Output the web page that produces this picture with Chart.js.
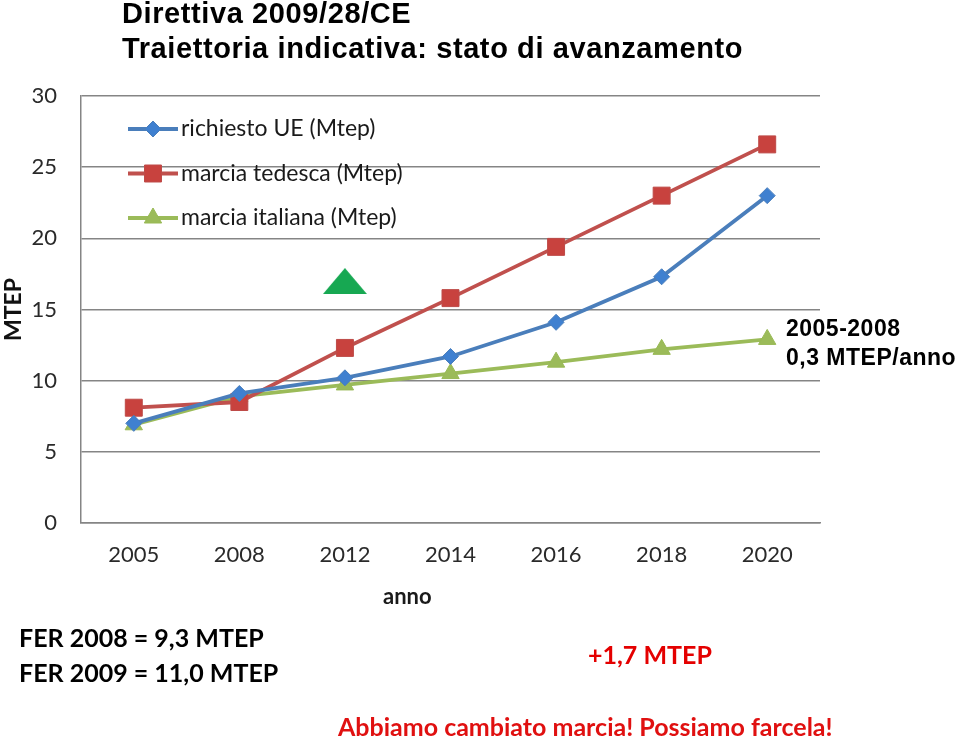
<!DOCTYPE html>
<html><head><meta charset="utf-8">
<script src="https://cdn.jsdelivr.net/npm/chart.js@4.4.1/dist/chart.umd.min.js"></script>
<style>
html,body{margin:0;padding:0;background:#fff;}
#wrap{position:relative;width:960px;height:739px;overflow:hidden;background:#fff;}
#box{position:absolute;left:0;top:0;width:960px;height:739px;}
.t{position:absolute;white-space:nowrap;margin:0;}
#title{left:122px;top:-4.5px;font:bold 29px/35px "Liberation Sans",Arial,sans-serif;letter-spacing:0.6px;color:#000;}
#rate{left:786px;top:313.5px;font:bold 23px/29px "Liberation Sans",Arial,sans-serif;letter-spacing:0.5px;color:#000;}
#anno{left:383px;top:583px;font:bold 22px/26px Lato,sans-serif;color:#1a1a1a;}
#fer{left:19px;top:620px;font:bold 25px/35px Lato,sans-serif;color:#000;}
#plus{left:588px;top:639px;font:bold 25px/30px Lato,sans-serif;color:#e40000;}
#motto{left:338px;top:711px;font:bold 25px/30px Lato,sans-serif;color:#e01010;}
</style></head><body>
<div id="wrap">
<div id="box"><canvas id="c"></canvas></div>
<div class="t" id="title">Direttiva 2009/28/CE<br>Traiettoria indicativa: stato di avanzamento</div>
<div class="t" id="rate">2005-2008<br>0,3 MTEP/anno</div>
<div class="t" id="anno">anno</div>
<div class="t" id="fer">FER 2008 = 9,3 MTEP<br>FER 2009 = 11,0 MTEP</div>
<div class="t" id="plus">+1,7 MTEP</div>
<div class="t" id="motto">Abbiamo cambiato marcia! Possiamo farcela!</div>
</div>
<script>
// ---- data ----
const anni = ['2005', '2008', '2012', '2014', '2016', '2018', '2020'];
const richiestoUE = [7.0, 9.1, 10.2, 11.7, 14.1, 17.3, 23.0];
const marciaTedesca = [8.1, 8.5, 12.3, 15.8, 19.4, 23.0, 26.6];
const marciaItaliana = [6.9, 8.9, 9.7, 10.5, 11.3, 12.2, 12.9];
const segnale = [null, null, 17.0, null, null, null, null];
const nomiSerie = ['richiesto UE (Mtep)', 'marcia tedesca (Mtep)', 'marcia italiana (Mtep)'];
const yTicks = [0, 5, 10, 15, 20, 25, 30];

Chart.defaults.font.family = 'Lato, "Open Sans", sans-serif';

// flat green triangle image for the signal marker
const tri = document.createElement('canvas');
tri.width = 44; tri.height = 26;
(function(){const g = tri.getContext('2d'); g.fillStyle = '#17a852'; g.beginPath(); g.moveTo(0,26); g.lineTo(22,0); g.lineTo(44,26); g.closePath(); g.fill();})();

function marker(ctx, style, r, x, y) {
  if (Chart.helpers && Chart.helpers.drawPoint) {
    Chart.helpers.drawPoint(ctx, {pointStyle: style, radius: r, borderWidth: ctx.lineWidth, rotation: 0}, x, y);
    return;
  }
  ctx.beginPath();
  if (style === 'rectRot') { ctx.moveTo(x - r, y); ctx.lineTo(x, y - r); ctx.lineTo(x + r, y); ctx.lineTo(x, y + r); }
  else if (style === 'rect') { const s = r * Math.SQRT1_2; ctx.rect(x - s, y - s, 2 * s, 2 * s); }
  else { ctx.moveTo(x, y - r); ctx.lineTo(x + r * 0.866, y + r / 2); ctx.lineTo(x - r * 0.866, y + r / 2); }
  ctx.closePath(); ctx.fill(); ctx.stroke();
}

const inlineLegend = {
  id: 'inlineLegend',
  afterDraw(chart) {
    const ctx = chart.ctx, a = chart.chartArea;
    ctx.save();
    for (let i = 0; i < 3; i++) {
      const d = chart.data.datasets[i];
      const y = a.top + 33 + i * 44.5;
      const x0 = a.left + 47, x1 = a.left + 97;
      ctx.strokeStyle = d.borderColor; ctx.lineWidth = d.borderWidth;
      ctx.beginPath(); ctx.moveTo(x0, y); ctx.lineTo(x1, y); ctx.stroke();
      ctx.fillStyle = d.pointBackgroundColor; ctx.strokeStyle = d.pointBorderColor; ctx.lineWidth = d.pointBorderWidth;
      marker(ctx, d.pointStyle, d.pointRadius, (x0 + x1) / 2, y);
      ctx.fillStyle = '#1a1a1a'; ctx.font = '23px Lato, sans-serif';
      ctx.textBaseline = 'middle'; ctx.textAlign = 'left';
      ctx.fillText(d.label, x1 + 3, y);
    }
    ctx.restore();
  }
};

new Chart(document.getElementById('c'), {
  type: 'line',
  data: {
    labels: anni,
    datasets: [
      {label: nomiSerie[0], data: richiestoUE, borderColor: '#4a7ebb', backgroundColor: '#3f80d0',
       pointBackgroundColor: '#3f80d0', pointBorderColor: '#4a7ebb', pointStyle: 'rectRot', pointRadius: 8, pointBorderWidth: 1, borderWidth: 3.8},
      {label: nomiSerie[1], data: marciaTedesca, borderColor: '#c0504d', backgroundColor: '#c8423e',
       pointBackgroundColor: '#c8423e', pointBorderColor: '#be4b48', pointStyle: 'rect', pointRadius: 12, pointBorderWidth: 1, borderWidth: 3.8},
      {label: nomiSerie[2], data: marciaItaliana, borderColor: '#9bbb59', backgroundColor: '#9bbb59',
       pointBackgroundColor: '#9bbb59', pointBorderColor: '#98b954', pointStyle: 'triangle', pointRadius: 10, pointBorderWidth: 1, borderWidth: 3.8},
      {label: '', data: segnale, showLine: false, pointStyle: tri, pointRadius: 12, borderWidth: 0}
    ]
  },
  options: {
    responsive: true, maintainAspectRatio: false, animation: false,
    layout: {padding: {top: 96, right: 140, bottom: 126, left: 0}},
    plugins: {legend: {display: false}, tooltip: {enabled: false}, title: {display: false}},
    scales: {
      x: {
        offset: true,
        grid: {display: false, drawTicks: false},
        border: {display: true, color: '#858585', width: 1.5},
        ticks: {padding: 19, color: '#2a2a2a', font: {size: 22}, maxRotation: 0, autoSkip: false},
        title: {display: false},
        afterFit(s) { s.height = 90; }
      },
      y: {
        min: 0, max: 30,
        afterBuildTicks(s) { s.ticks = yTicks.map(v => ({value: v})); },
        grid: {color: '#858585', lineWidth: 1.5, drawTicks: false},
        border: {display: true, color: '#858585', width: 1.5},
        ticks: {padding: 24, color: '#2a2a2a', font: {size: 22}},
        title: {display: true, text: 'MTEP', color: '#111', font: {size: 23, weight: 'bold'}, padding: {top: 0, bottom: 0}},
        afterFit(s) { s.width = 81; }
      }
    }
  },
  plugins: [inlineLegend]
});
</script>
</body></html>
